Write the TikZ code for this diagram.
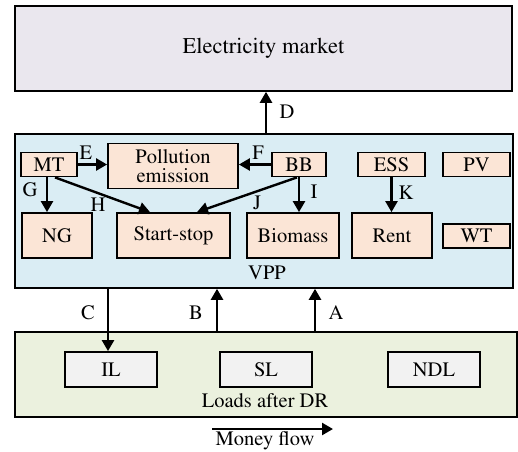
\documentclass[tikz,border=0pt]{standalone}
\usepackage[T1]{fontenc}
\usepackage{mathptmx}
\usetikzlibrary{arrows.meta}
\definecolor{mkt}{HTML}{EAE7EE}
\definecolor{vppc}{HTML}{DAEDF4}
\definecolor{peach}{HTML}{FBE5D6}
\definecolor{ldc}{HTML}{EBF1DE}
\definecolor{grayb}{HTML}{F2F2F2}
\tikzset{
  bigbox/.style={draw=black, line width=1.6pt, inner sep=0pt},
  sub/.style={draw=black, line width=1.8pt, fill=peach, inner sep=0pt, font=\fontsize{20.5}{21}\selectfont},
  ld/.style={draw=black, line width=1.8pt, fill=grayb, inner sep=0pt, font=\fontsize{20.5}{21}\selectfont},
  arr/.style={line width=2.4pt, -{Triangle[length=11pt,width=12pt]}},
  lbl/.style={font=\fontsize{20.5}{21}\selectfont, inner sep=0pt}
}
\begin{document}
\begin{tikzpicture}[x=1pt,y=-1pt]
\useasboundingbox (0,0) rectangle (518,451);
% big boxes
\node[bigbox, fill=mkt, minimum width=497pt, minimum height=85pt, font=\fontsize{22.5}{24}\selectfont] (market) at (263.5,48.5) {Electricity market};
\node[bigbox, fill=vppc, minimum width=498pt, minimum height=154pt] (vpp) at (264,211) {};
\node[bigbox, fill=ldc, minimum width=502pt, minimum height=85pt] (loads) at (266,374.5) {};
% VPP components
\node[sub, minimum width=56pt, minimum height=24pt] (mt) at (49,164.5) {MT};
\node[sub, minimum width=130pt, minimum height=45pt, align=center] (pol) at (173,166) {Pollution\\[-2pt]emission};
\node[sub, minimum width=54pt, minimum height=24pt] (bb) at (299,164.5) {BB};
\node[sub, minimum width=67pt, minimum height=24pt] (ess) at (391.5,164.5) {ESS};
\node[sub, minimum width=67pt, minimum height=24pt] (pv) at (476.5,164.5) {PV};
\node[sub, minimum width=70pt, minimum height=45pt] (ng) at (57,235.5) {NG};
\node[sub, minimum width=113pt, minimum height=45pt] (ss) at (173.5,235.5) {Start-stop};
\node[sub, minimum width=92pt, minimum height=45pt] (bio) at (293,235.5) {Biomass};
\node[sub, minimum width=80pt, minimum height=45pt] (rent) at (392,235.5) {Rent};
\node[sub, minimum width=67pt, minimum height=24pt] (wt) at (476.5,236) {WT};
\node[lbl] (vpplbl) at (267,273) {VPP};
% loads
\node[ld, minimum width=92pt, minimum height=35pt] (il) at (111,369.5) {IL};
\node[ld, minimum width=92pt, minimum height=35pt] (sl) at (266,369.5) {SL};
\node[ld, minimum width=92pt, minimum height=35pt] (ndl) at (434,369.5) {NDL};
\node[lbl] (ldlbl) at (265,401) {Loads after DR};
% arrows
\draw[arr] ([xshift=2pt]vpp.north) -- ([xshift=2pt]vpp.north |- market.south);
\draw[arr] (mt.east) -- (mt.east -| pol.west);
\draw[arr] (bb.west) -- (bb.west -| pol.east);
\draw[arr] ([xshift=-2pt]mt.south) -- ([xshift=-2pt]mt.south |- ng.north);
\draw[arr] ([xshift=6pt]mt.south) -- ([xshift=-23.5pt]ss.north);
\draw[arr] ([xshift=-2pt]bb.south) -- ([xshift=23.5pt]ss.north);
\draw[arr] (bb.south) -- (bb.south |- bio.north);
\draw[arr] (ess.south) -- (ess.south |- rent.north);
\draw[arr] ([xshift=-3pt]il.north |- vpp.south) -- ([xshift=-3pt]il.north);
\draw[arr] ([xshift=-49pt]loads.north) -- ([xshift=-49pt]loads.north |- vpp.south);
\draw[arr] ([xshift=49pt]loads.north) -- ([xshift=49pt]loads.north |- vpp.south);
\coordinate (mf1) at (212,429);
\coordinate (mf2) at (333,429);
\draw[arr] (mf1) -- (mf2);
\node[lbl] (mflbl) at (265,441) {Money flow};
% labels
\node[lbl] (lD) at (287,112) {D};
\node[lbl] (lE) at (86,153) {E};
\node[lbl] (lF) at (258,153) {F};
\node[lbl] (lG) at (30,190) {G};
\node[lbl] (lH) at (98,205) {H};
\node[lbl] (lJ) at (257,203) {J};
\node[lbl] (lI) at (314,192) {I};
\node[lbl] (lK) at (406,193) {K};
\node[lbl] (lC) at (88,313) {C};
\node[lbl] (lB) at (196,313) {B};
\node[lbl] (lA) at (336,313) {A};
\end{tikzpicture}
\end{document}
